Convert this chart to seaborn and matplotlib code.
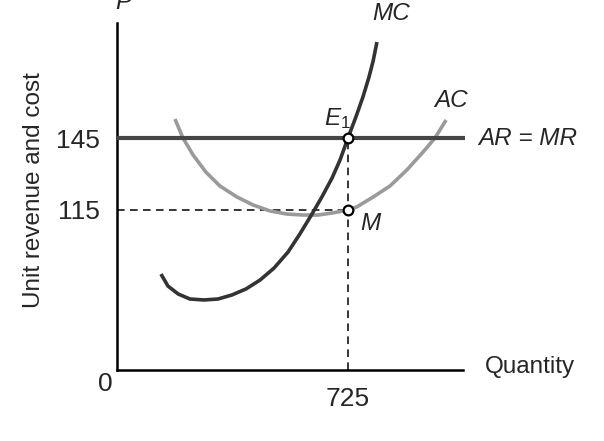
import matplotlib
matplotlib.use("Agg")
import matplotlib.pyplot as plt
import seaborn as sns
import pandas as pd

# ---- data (schematic economics chart) ----
mc_q = [138, 160, 192, 229, 273, 317, 361, 405, 449, 493, 537, 574, 612, 643, 675, 700,
        725, 750, 772, 791, 804, 816]
mc_p = [88.3, 83.3, 80.0, 77.9, 77.5, 77.9, 79.6, 82.1, 85.8, 90.8, 97.5, 105.0, 113.3,
        120.4, 128.3, 135.8, 145, 153.8, 162.1, 170.4, 177.1, 185]

ac_q = [182, 207, 239, 279, 323, 377, 427, 480, 534, 584, 631, 678, 725, 753, 804, 857,
        910, 961, 998, 1033]
ac_p = [152.9, 145, 137.9, 130.8, 125, 120.4, 117.1, 114.6, 113.3, 112.9, 112.9, 113.8,
        115, 116.3, 120.4, 125, 131.7, 139.2, 145, 152.5]

ar_q = [0, 1092]
ar_p = [145, 145]

q_eq = 725
p_eq = 145
ac_min_p = 115

y_ticks = [115, 145]
y_tick_labels = ["115", "145"]
x_ticks = [725]
x_tick_labels = ["725"]

sns.set_style("white")
plt.rcParams['font.family'] = ['Liberation Sans', 'DejaVu Sans']
plt.rcParams['mathtext.fontset'] = 'custom'
plt.rcParams['mathtext.rm'] = 'Liberation Sans'
plt.rcParams['mathtext.it'] = 'Liberation Sans:italic'

fig = plt.figure(figsize=(6.04, 4.41), dpi=100)
ax = fig.add_axes([0.1937, 0.162, 0.5728, 0.7857])

mc_df = pd.DataFrame({"q": mc_q, "p": mc_p})
ac_df = pd.DataFrame({"q": ac_q, "p": ac_p})
ar_df = pd.DataFrame({"q": ar_q, "p": ar_p})

# dashed guides
ax.plot([0, q_eq], [ac_min_p, ac_min_p], color="black", lw=1.1, dashes=(5, 3.5), zorder=1)
ax.plot([q_eq, q_eq], [48.5, p_eq], color="black", lw=1.1, dashes=(5, 3.5), zorder=1)

sns.lineplot(data=ac_df, x="q", y="p", ax=ax, color="#9a9a9a", lw=2.6, sort=False, zorder=2)
sns.lineplot(data=ar_df, x="q", y="p", ax=ax, color="#454545", lw=3.0, sort=False, zorder=3, clip_on=False)
sns.lineplot(data=mc_df, x="q", y="p", ax=ax, color="#333333", lw=2.6, sort=False, zorder=4)
for ln in ax.lines:
    ln.set_solid_joinstyle("round")
    ln.set_solid_capstyle("butt")

# points
ax.plot([q_eq, q_eq], [p_eq, ac_min_p], ls="none", marker="o", ms=7, mfc="white",
        mec="black", mew=1.6, zorder=5, clip_on=False)

ax.set_xlim(0, 1086)
ax.set_ylim(48.5, 192.9)

for s in ["top", "right"]:
    ax.spines[s].set_visible(False)
for s in ["left", "bottom"]:
    ax.spines[s].set_linewidth(1.8)
    ax.spines[s].set_color("black")

ax.set_yticks(y_ticks)
ax.set_yticklabels(y_tick_labels, fontsize=19)
ax.set_xticks(x_ticks)
ax.set_xticklabels(x_tick_labels, fontsize=19)
ax.tick_params(axis="y", length=0, pad=12)
ax.tick_params(axis="x", length=0, pad=12.5)
ax.set_xlabel("")
ax.set_ylabel("")

fs = 17.5
ax.text(19, 201.5, "P", fontsize=fs, style="italic", ha="center", va="center", clip_on=False)
ax.text(860, 196.7, "MC", fontsize=fs, style="italic", ha="center", va="center", clip_on=False)
ax.text(1048, 160.8, "AC", fontsize=fs, style="italic", ha="center", va="center", clip_on=False)
ax.text(691, 153.3, r"$\mathit{E}_{1}$", fontsize=fs, ha="center", va="center", clip_on=False)
ax.text(1133, 145, "AR = MR", fontsize=fs, style="italic", ha="left", va="center", clip_on=False)
ax.text(794, 109.2, "M", fontsize=fs, style="italic", ha="center", va="center", clip_on=False)
ax.text(1155, 49.6, "Quantity", fontsize=fs, ha="left", va="center", clip_on=False)
ax.text(-38, 42.5, "0", fontsize=19, ha="center", va="center", clip_on=False)

fig.text(34 / 604, 1 - 190 / 441, "Unit revenue and cost", fontsize=fs, rotation=90,
         ha="center", va="center")

fig.savefig("out.png", dpi=100)
